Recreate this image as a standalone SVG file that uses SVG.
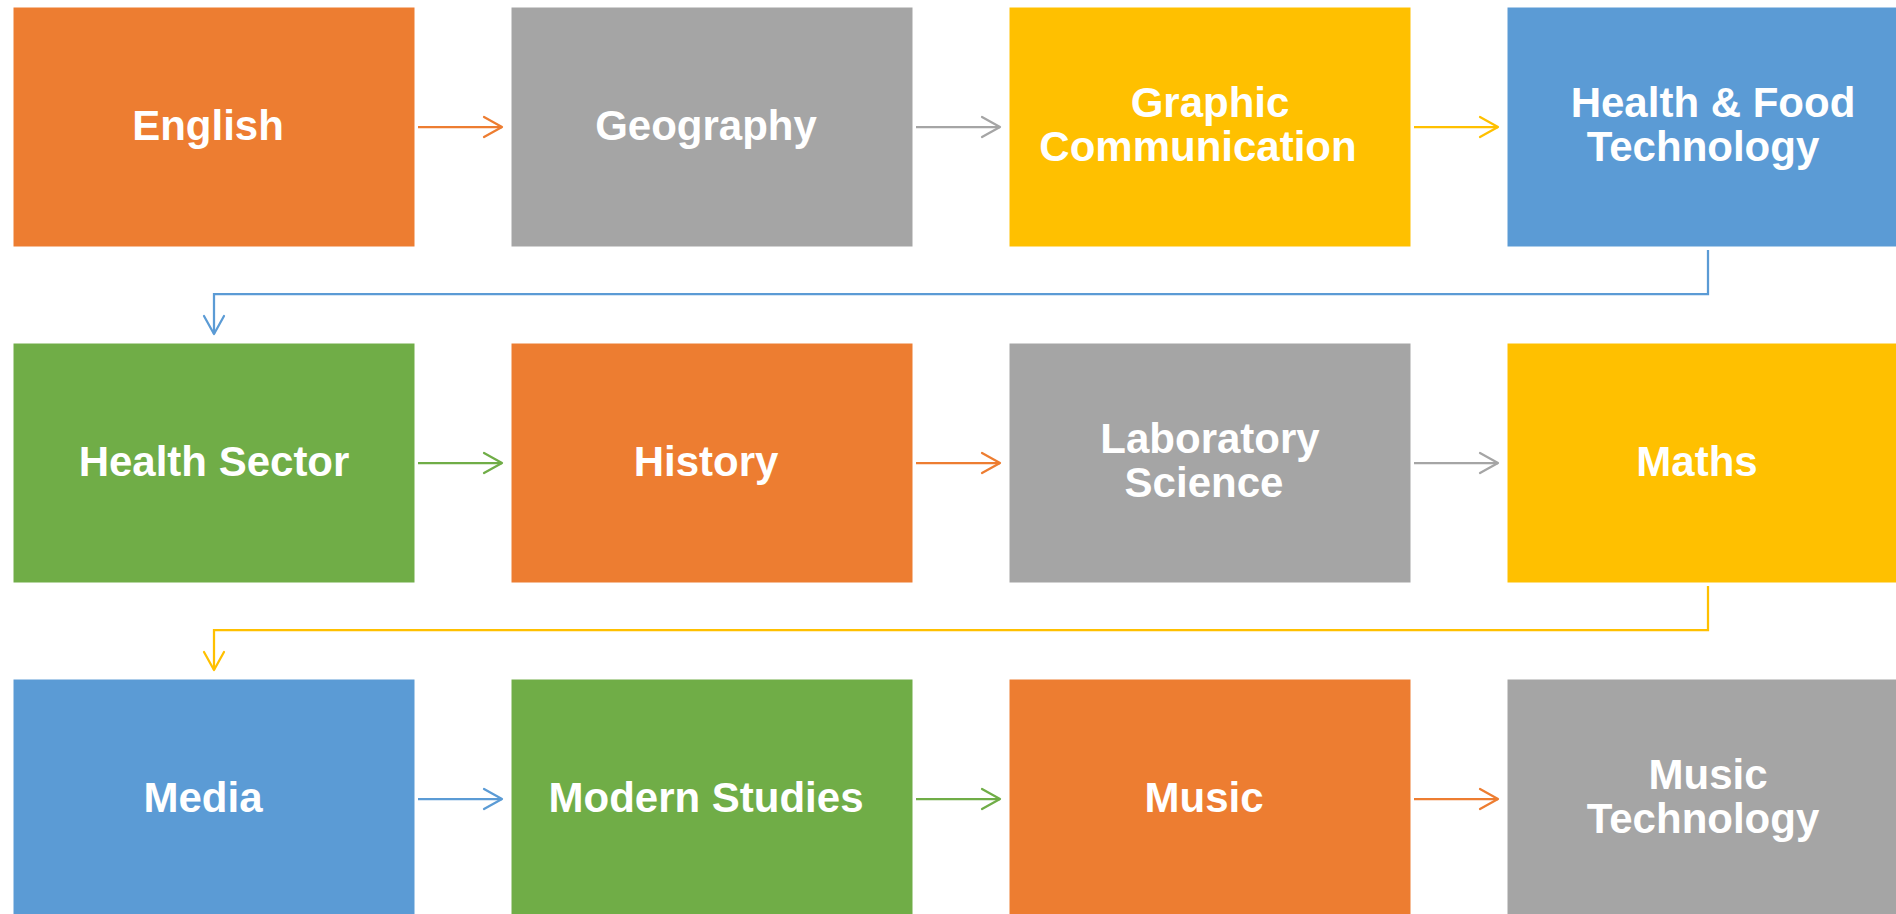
<svg xmlns="http://www.w3.org/2000/svg" width="1896" height="914" viewBox="0 0 1896 914">
<style>
.box{stroke:#ffffff;stroke-width:1}
.o{fill:#ED7D31}.g{fill:#A5A5A5}.y{fill:#FFC000}.b{fill:#5B9BD5}.gr{fill:#70AD47}
text{font-family:"Liberation Sans",Arial,sans-serif;font-weight:bold;font-size:42px;fill:#ffffff;text-anchor:middle}
.c{fill:none;stroke-width:2.25}
.co{stroke:#ED7D31}.cg{stroke:#A5A5A5}.cy{stroke:#FFC000}.cb{stroke:#5B9BD5}.cgr{stroke:#70AD47}
</style>
<defs>
<marker id="mo" markerUnits="userSpaceOnUse" markerWidth="24" markerHeight="26" viewBox="-21 -13 24 26" refX="0" refY="0" orient="auto"><path d="M-18,-10 L0,0 L-18,10" fill="none" stroke="#ED7D31" stroke-width="2.25" stroke-linecap="round" stroke-linejoin="round"/></marker>
<marker id="mg" markerUnits="userSpaceOnUse" markerWidth="24" markerHeight="26" viewBox="-21 -13 24 26" refX="0" refY="0" orient="auto"><path d="M-18,-10 L0,0 L-18,10" fill="none" stroke="#A5A5A5" stroke-width="2.25" stroke-linecap="round" stroke-linejoin="round"/></marker>
<marker id="my" markerUnits="userSpaceOnUse" markerWidth="24" markerHeight="26" viewBox="-21 -13 24 26" refX="0" refY="0" orient="auto"><path d="M-18,-10 L0,0 L-18,10" fill="none" stroke="#FFC000" stroke-width="2.25" stroke-linecap="round" stroke-linejoin="round"/></marker>
<marker id="mb" markerUnits="userSpaceOnUse" markerWidth="24" markerHeight="26" viewBox="-21 -13 24 26" refX="0" refY="0" orient="auto"><path d="M-18,-10 L0,0 L-18,10" fill="none" stroke="#5B9BD5" stroke-width="2.25" stroke-linecap="round" stroke-linejoin="round"/></marker>
<marker id="mgr" markerUnits="userSpaceOnUse" markerWidth="24" markerHeight="26" viewBox="-21 -13 24 26" refX="0" refY="0" orient="auto"><path d="M-18,-10 L0,0 L-18,10" fill="none" stroke="#70AD47" stroke-width="2.25" stroke-linecap="round" stroke-linejoin="round"/></marker>
</defs>
<rect width="1896" height="914" fill="#ffffff"/>
<g id="connectors">
<path class="c co" d="M418,127 H502" marker-end="url(#mo)"/>
<path class="c cg" d="M916,127 H1000" marker-end="url(#mg)"/>
<path class="c cy" d="M1414,127 H1498" marker-end="url(#my)"/>
<path class="c cb" d="M1708,250 V294 H214 V334" marker-end="url(#mb)"/>
<path class="c cgr" d="M418,463 H502" marker-end="url(#mgr)"/>
<path class="c co" d="M916,463 H1000" marker-end="url(#mo)"/>
<path class="c cg" d="M1414,463 H1498" marker-end="url(#mg)"/>
<path class="c cy" d="M1708,586 V630 H214 V670" marker-end="url(#my)"/>
<path class="c cb" d="M418,799 H502" marker-end="url(#mb)"/>
<path class="c cgr" d="M916,799 H1000" marker-end="url(#mgr)"/>
<path class="c co" d="M1414,799 H1498" marker-end="url(#mo)"/>
</g>
<g id="english"><rect class="box o" x="13" y="7" width="402" height="240"/><text x="208" y="140">English</text></g>
<g id="geography"><rect class="box g" x="511" y="7" width="402" height="240"/><text x="706" y="140">Geography</text></g>
<g id="graphic-communication"><rect class="box y" x="1009" y="7" width="402" height="240"/><text x="1210" y="117">Graphic</text><text x="1198" y="161">Communication</text></g>
<g id="health-food-technology"><rect class="box b" x="1507" y="7" width="402" height="240"/><text x="1713" y="117">Health &amp; Food</text><text x="1703" y="161">Technology</text></g>
<g id="health-sector"><rect class="box gr" x="13" y="343" width="402" height="240"/><text x="214" y="476">Health Sector</text></g>
<g id="history"><rect class="box o" x="511" y="343" width="402" height="240"/><text x="706" y="476">History</text></g>
<g id="laboratory-science"><rect class="box g" x="1009" y="343" width="402" height="240"/><text x="1210" y="453">Laboratory</text><text x="1204" y="497">Science</text></g>
<g id="maths"><rect class="box y" x="1507" y="343" width="402" height="240"/><text x="1697" y="476">Maths</text></g>
<g id="media"><rect class="box b" x="13" y="679" width="402" height="240"/><text x="203" y="812">Media</text></g>
<g id="modern-studies"><rect class="box gr" x="511" y="679" width="402" height="240"/><text x="706" y="812">Modern Studies</text></g>
<g id="music"><rect class="box o" x="1009" y="679" width="402" height="240"/><text x="1204" y="812">Music</text></g>
<g id="music-technology"><rect class="box g" x="1507" y="679" width="402" height="240"/><text x="1708" y="789">Music</text><text x="1703" y="833">Technology</text></g>
</svg>
